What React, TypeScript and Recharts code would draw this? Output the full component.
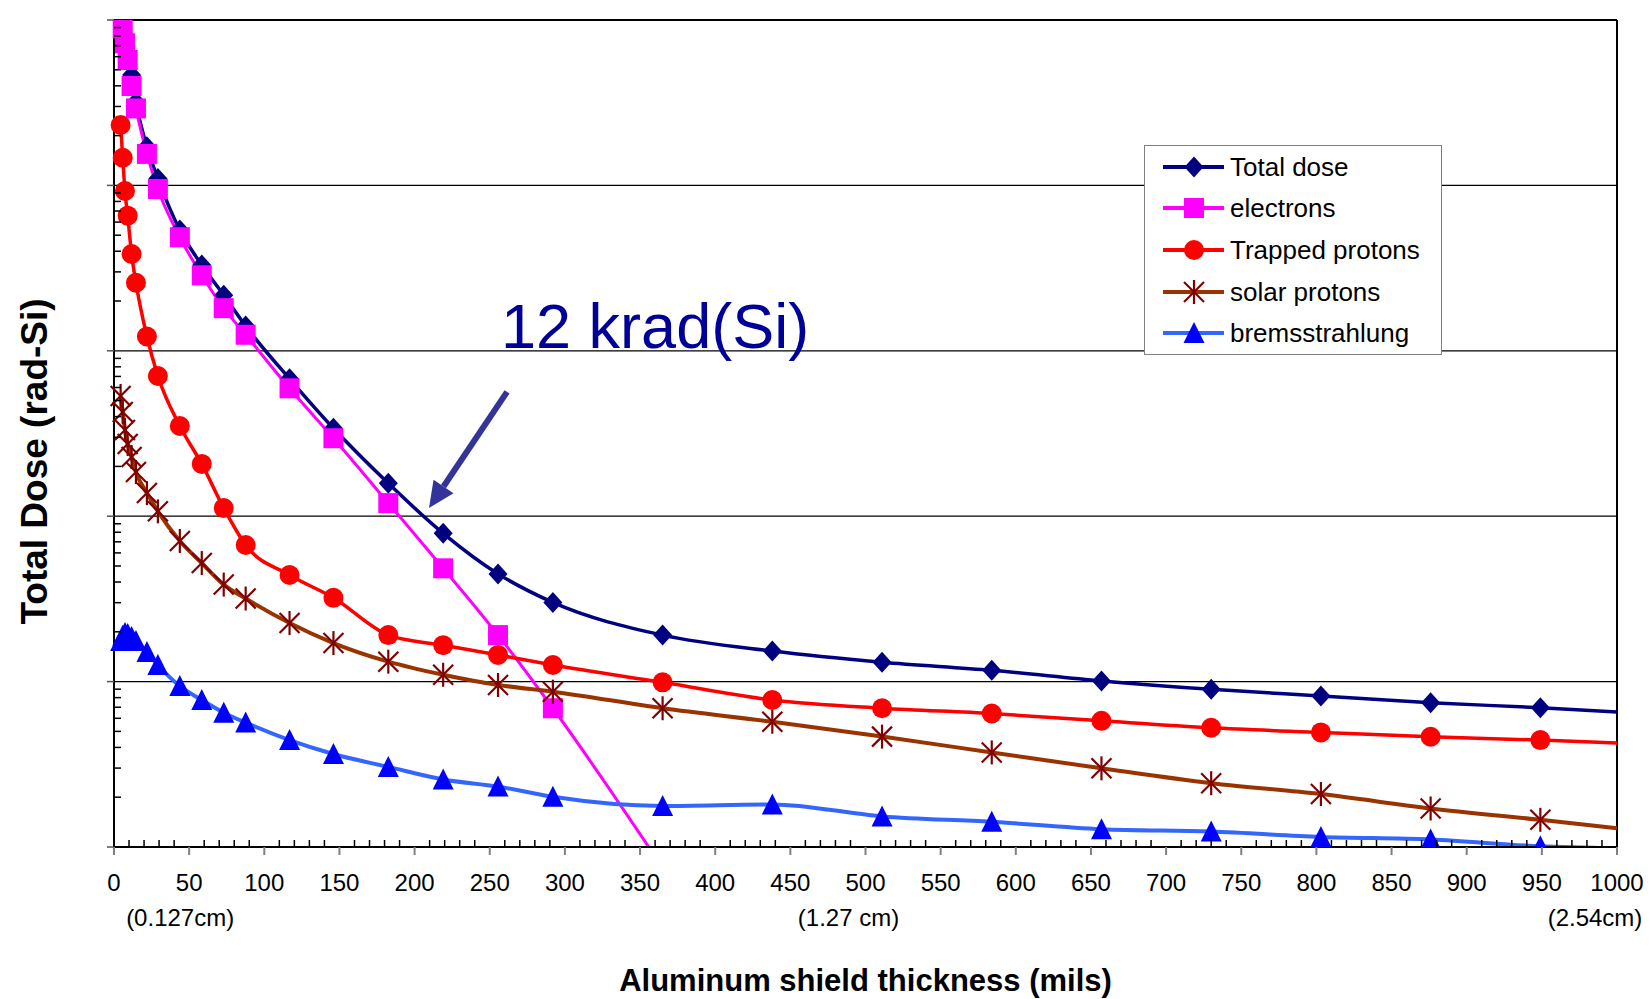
import React from "react";
import { LineChart, Line, XAxis, YAxis, CartesianGrid, Legend, ReferenceLine } from "recharts";

const FONT = '"Liberation Sans", Arial, sans-serif';

// shield thickness in mils (last point only carries the line to the frame)
const thickness = [4.4, 5.8, 7.3, 9.1, 11.7, 14.6, 21.9, 29.2, 43.8, 58.4, 73, 87.6, 116.8, 146, 182.5, 219, 255.5, 292, 365, 438, 511, 584, 657, 730, 803, 876, 949, 1000];

// dose values in rad(Si)
const totalDose = [15000000, 10300000, 8100000, 6400000, 4650000, 3190000, 1710000, 1100000, 537000, 330000, 217000, 141000, 67700, 34000, 15800, 7880, 4480, 3010, 1910, 1530, 1310, 1170, 1010, 898, 818, 745, 695, 655];
const electrons = [null, 8900000, 7230000, 5730000, 3990000, 2920000, 1550000, 951000, 486000, 286000, 181000, 125000, 59300, 29600, 12000, 4840, 1910, 690, 75, null, null, null, null, null, null, null, null, null];
const trappedProtons = [2320000, 1470000, 925000, 656000, 385000, 258000, 122000, 70400, 35100, 20700, 11200, 6700, 4410, 3210, 1910, 1660, 1450, 1260, 990, 774, 690, 641, 579, 526, 493, 464, 443, 425];
const solarProtons = [53300, 42700, 33200, 27300, 22800, 18500, 13800, 10700, 7080, 5210, 3860, 3180, 2260, 1710, 1320, 1100, 954, 869, 690, 572, 465, 373, 299, 243, 209, 171, 146, 130];
const bremsstrahlung = [1760, 1890, 1970, 1940, 1860, 1760, 1510, 1260, 940, 774, 649, 565, 443, 365, 305, 256, 232, 201, 177, 181, 153, 142, 128, 124, 115, 111, 101, 98];

const xMajorTicks = [0, 50, 100, 150, 200, 250, 300, 350, 400, 450, 500, 550, 600, 650, 700, 750, 800, 850, 900, 950, 1000];
const xMinorStep = 10;
const cmLabels: Record<number, string> = { 50: "(0.127cm)", 500: "(1.27 cm)", 1000: "(2.54cm)" };
const cmLabelShift: Record<number, number> = { 50: -9, 500: -17, 1000: -22 };

const decades = [100, 1000, 10000, 100000, 1000000, 10000000];
const minorFactors = [2, 3, 4, 5, 6, 7, 8, 9];

const annotation = "12 krad(Si)";
const arrowFrom = { x: 261.5, y: 56400 };
const arrowTo = { x: 209.6, y: 11200 };

const series = [
	{ key: "total", name: "Total dose", line: "#000080", mark: "#000080", kind: "diamond", width: 3.5 },
	{ key: "electrons", name: "electrons", line: "#FF00FF", mark: "#FF00FF", kind: "square", width: 3 },
	{ key: "trapped", name: "Trapped protons", line: "#FF0000", mark: "#FF0000", kind: "circle", width: 3.5 },
	{ key: "solar", name: "solar protons", line: "#993300", mark: "#800000", kind: "star", width: 4 },
	{ key: "brems", name: "bremsstrahlung", line: "#3366FF", mark: "#0000FF", kind: "triangle", width: 4 },
];

const rows = thickness.map((x, i) => ({
	x,
	total: totalDose[i],
	electrons: electrons[i],
	trapped: trappedProtons[i],
	solar: solarProtons[i],
	brems: bremsstrahlung[i],
}));

const xTicks: number[] = [];
for (let v = 0; v <= 1000; v += xMinorStep) xTicks.push(v);

const yTicks: number[] = [];
decades.forEach((d, i) => {
	yTicks.push(d);
	if (i < decades.length - 1) minorFactors.forEach((f) => yTicks.push(d * f));
});

const Marker = ({ kind, cx, cy, color }: any) => {
	switch (kind) {
		case "diamond":
			return <polygon points={`${cx},${cy - 10.5} ${cx + 9.5},${cy} ${cx},${cy + 10.5} ${cx - 9.5},${cy}`} fill={color} />;
		case "square":
			return <rect x={cx - 10} y={cy - 10} width={20} height={20} fill={color} />;
		case "circle":
			return <circle cx={cx} cy={cy} r={10} fill={color} />;
		case "star":
			return (
				<g stroke={color} strokeWidth={2.2}>
					<line x1={cx - 10} y1={cy - 10} x2={cx + 10} y2={cy + 10} />
					<line x1={cx - 10} y1={cy + 10} x2={cx + 10} y2={cy - 10} />
					<line x1={cx} y1={cy - 12} x2={cx} y2={cy + 12} />
				</g>
			);
		default:
			return <polygon points={`${cx},${cy - 11} ${cx + 10.5},${cy + 10} ${cx - 10.5},${cy + 10}`} fill={color} />;
	}
};

const makeDot = (s: any) => (props: any) => {
	const { cx, cy, index, payload, value } = props;
	if (cx == null || cy == null || value == null || payload.x >= 1000) return <g key={`${s.key}-${index}`} />;
	return (
		<g key={`${s.key}-${index}`}>
			<Marker kind={s.kind} cx={cx} cy={cy} color={s.mark} />
		</g>
	);
};

const XTick = (props: any) => {
	const { x, y, payload } = props;
	const v = payload.value;
	if (!xMajorTicks.includes(v)) {
		return <line x1={x} y1={y} x2={x} y2={y - 7} stroke="#000" strokeWidth={1.5} />;
	}
	const sub = cmLabels[v];
	const shift = cmLabelShift[v] || 0;
	return (
		<g>
			<line x1={x} y1={y} x2={x} y2={y + 8} stroke="#808080" strokeWidth={2} />
			<text x={x} y={y + 44} textAnchor="middle" fontFamily={FONT} fontSize={24} fill="#000">{v}</text>
			{sub && (
				<text x={x + shift} y={y + 79} textAnchor="middle" fontFamily={FONT} fontSize={24} fill="#000">{sub}</text>
			)}
		</g>
	);
};

const YTick = (props: any) => {
	const { x, y, payload } = props;
	if (decades.includes(payload.value)) {
		return <line x1={x - 7} y1={y} x2={x} y2={y} stroke="#555" strokeWidth={1.5} />;
	}
	return <line x1={x} y1={y} x2={x + 7} y2={y} stroke="#000" strokeWidth={1.5} />;
};

const renderXTitle = (props: any) => {
	const { x, y, width } = props.viewBox;
	return (
		<text x={x + width / 2} y={y + 144} textAnchor="middle" fontFamily={FONT} fontSize={31} fontWeight="bold" fill="#000">
			Aluminum shield thickness (mils)
		</text>
	);
};

const renderYTitle = (props: any) => {
	const { x, y, height } = props.viewBox;
	const cx = x - 20;
	const cy = y + height / 2 + 28;
	return (
		<text x={cx} y={cy} transform={`rotate(-90 ${cx} ${cy})`} textAnchor="middle" dominantBaseline="central" fontFamily={FONT} fontSize={37} fontWeight="bold" fill="#000">
			Total Dose (rad-Si)
		</text>
	);
};

const ArrowShape = (props: any) => {
	const { x1, y1, x2, y2 } = props;
	const len = Math.hypot(x2 - x1, y2 - y1) || 1;
	const ux = (x2 - x1) / len;
	const uy = (y2 - y1) / len;
	const bx = x2 - ux * 26;
	const by = y2 - uy * 26;
	const px = -uy * 12;
	const py = ux * 12;
	return (
		<g>
			<text x={x1 - 6} y={y1 - 44} fontFamily={FONT} fontSize={63} fill="#000099">{annotation}</text>
			<line x1={x1} y1={y1} x2={bx} y2={by} stroke="#333399" strokeWidth={6} />
			<polygon points={`${x2},${y2} ${bx + px},${by + py} ${bx - px},${by - py}`} fill="#333399" />
		</g>
	);
};

const renderLegend = () => (
	<div style={{ width: 298, height: 210, boxSizing: "border-box", border: "1.5px solid #808080", background: "#fff", fontFamily: FONT, fontSize: 26, color: "#000" }}>
		{series.map((s) => (
			<div key={s.key} style={{ display: "flex", alignItems: "center", height: 41.6 }}>
				<svg width={85} height={30} style={{ display: "block" }}>
					<line x1={18} y1={15} x2={79} y2={15} stroke={s.line} strokeWidth={4} />
					<Marker kind={s.kind} cx={49} cy={15} color={s.mark} />
				</svg>
				<span style={{ lineHeight: "30px", whiteSpace: "nowrap" }}>{s.name}</span>
			</div>
		))}
	</div>
);

const App = () => {
	return (
		<div style={{ position: "absolute", left: 0, top: 0, background: "#fff" }}>
			<LineChart width={1650} height={999} data={rows} margin={{ top: 20, right: 33, left: 54, bottom: 52 }}>
				<XAxis xAxisId="grid" type="number" dataKey="x" domain={[0, 1000]} ticks={[1000]} hide />
				<YAxis yAxisId="grid" type="number" scale="log" domain={[100, 10000000]} ticks={decades} allowDataOverflow hide />
				<CartesianGrid xAxisId="grid" yAxisId="grid" stroke="#000" strokeWidth={1.2} />
				<XAxis
					dataKey="x"
					type="number"
					domain={[0, 1000]}
					ticks={xTicks}
					interval={0}
					tickSize={0}
					tickMargin={0}
					tickLine={false}
					tick={<XTick />}
					axisLine={{ stroke: "#000", strokeWidth: 2 }}
					height={100}
					label={renderXTitle}
				/>
				<YAxis
					type="number"
					scale="log"
					domain={[100, 10000000]}
					ticks={yTicks}
					interval={0}
					allowDataOverflow
					tickSize={0}
					tickMargin={0}
					tickLine={false}
					tick={<YTick />}
					axisLine={{ stroke: "#000", strokeWidth: 2 }}
					width={60}
					label={renderYTitle}
				/>
				<ReferenceLine y={10000000} stroke="#000" strokeWidth={2} />
				<ReferenceLine x={1000} stroke="#000" strokeWidth={2} />
				{series.map((s) => (
					<Line
						key={s.key}
						dataKey={s.key}
						name={s.name}
						type="monotone"
						stroke={s.line}
						strokeWidth={s.width}
						dot={makeDot(s)}
						activeDot={false}
						isAnimationActive={false}
					/>
				))}
				<ReferenceLine segment={[arrowFrom, arrowTo]} shape={ArrowShape} ifOverflow="visible" />
				<Legend layout="vertical" align="center" verticalAlign="middle" wrapperStyle={{ left: 1144, top: 145, width: 298 }} content={renderLegend} />
			</LineChart>
		</div>
	);
};

export default App;
